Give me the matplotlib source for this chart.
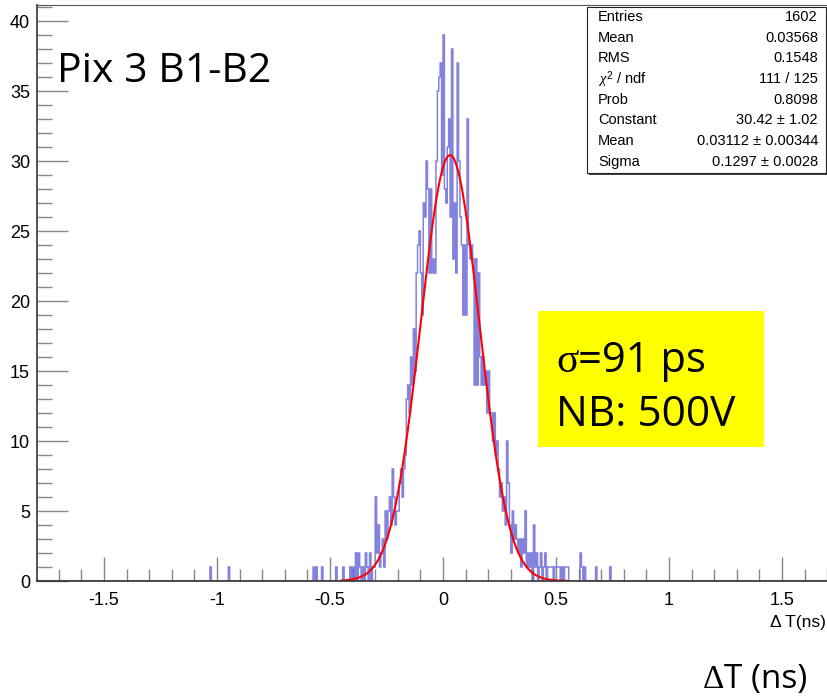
import numpy as np
import matplotlib
matplotlib.use("Agg")
import matplotlib.pyplot as plt
from matplotlib.patches import Rectangle
from matplotlib.ticker import MultipleLocator

# ---------------- data ----------------
bin_lo = -1.8
bin_width = 0.00625
n_bins = 576

core_start_x = -0.45
core_counts = [
    0, 1, 0, 0,   0, 0, 1, 0,   1, 0, 2, 0,   2, 1, 0, 1,
    0, 2, 1, 0,   2, 0, 1, 1,   6, 2, 4, 1,   2, 3, 1, 5,
    3, 5, 6, 4,   8, 6, 4, 5,   5, 7, 8, 6,   8, 9, 13, 14,
    12, 16, 14, 18, 15, 22, 24, 25, 22, 19, 27, 26, 30, 28, 22, 28,
    22, 23, 22, 30, 35, 36, 37, 29, 39, 28, 27, 31, 33, 26, 38, 23,
    27, 22, 37, 30, 26, 24, 19, 24, 19, 33, 24, 23, 24, 23, 14, 23,
    14, 22, 16, 14, 16, 14, 15, 12, 15, 12, 12, 10, 12, 9, 10, 8,
    6, 7, 5, 6,   4, 10, 7, 4,  2, 5, 3, 4,   3, 2, 3, 1,
    3, 2, 5, 1,   2, 1, 2, 0,   4, 1, 2, 0,   1, 2, 0, 1,
    2, 0, 1, 1,   1, 1, 0, 1,   1, 1, 1, 0,   1, 0, 1, 1,
    1, 0, 0, 0,   0, 0, 0, 0,   0, 2, 1, 0,   1, 0, 0, 0,
    0, 0, 0, 0,   1, 0, 0, 0,   0, 0, 0, 0,   0, 0, 1, 0,
]
tail_x = [-1.03, -0.95, -0.575, -0.56, -0.535, -0.47]
tail_n = [1, 1, 1, 1, 1, 1]

fit_constant = 30.42
fit_mean = 0.03112
fit_sigma = 0.1297
fit_range = (-0.45, 0.55)

stat_labels = ["Entries", "Mean", "RMS", r"$\chi^{2}$ / ndf", "Prob", "Constant", "Mean", "Sigma"]
stat_values = ["1602", "0.03568", "0.1548", "111 / 125", "0.8098",
               "30.42 ± 1.02", "0.03112 ± 0.00344", "0.1297 ± 0.0028"]

x_ticks = [-1.5, -1, -0.5, 0, 0.5, 1, 1.5]
x_tick_labels = ["-1.5", "-1", "-0.5", "0", "0.5", "1", "1.5"]
y_ticks = [0, 5, 10, 15, 20, 25, 30, 35, 40]

# ---------------- build histogram ----------------
edges = bin_lo + bin_width * np.arange(n_bins + 1)
counts = np.zeros(n_bins)
i0 = int(round((core_start_x - bin_lo) / bin_width))
counts[i0:i0 + len(core_counts)] = core_counts
for xv, nv in zip(tail_x, tail_n):
    counts[int((xv - bin_lo) / bin_width)] += nv

W, H = 828, 699
fig = plt.figure(figsize=(W / 100, H / 100), dpi=100)
plt.rcParams['font.family'] = ['Liberation Sans', 'DejaVu Sans']
plt.rcParams['mathtext.fontset'] = 'custom'
plt.rcParams['mathtext.rm'] = 'Liberation Sans'
plt.rcParams['mathtext.it'] = 'Liberation Serif:italic'

def fx(px):
    return px / W

def fy(py):
    return 1 - py / H

left_px, right_px, top_px, bottom_px = 37, 828, 5, 581
ax = fig.add_axes([fx(left_px), fy(bottom_px), fx(right_px) - fx(left_px), fy(top_px) - fy(bottom_px)])
x0_px, px_per_unit = 443, 226
ax.set_xlim((left_px - x0_px) / px_per_unit, (right_px - x0_px) / px_per_unit)
ax.set_ylim(0, (bottom_px - top_px) / 14.0)

ax.stairs(counts, edges, color='#6464d6', lw=1.1, alpha=0.8, zorder=2)

xf = np.linspace(fit_range[0], fit_range[1], 400)
yf = fit_constant * np.exp(-0.5 * ((xf - fit_mean) / fit_sigma) ** 2)
ax.plot(xf, yf, color='red', lw=1.5, zorder=3)

ax.set_xticks(x_ticks)
ax.set_xticklabels(x_tick_labels)
ax.xaxis.set_minor_locator(MultipleLocator(0.1))
ax.set_yticks(y_ticks)
ax.yaxis.set_minor_locator(MultipleLocator(1))
ax.tick_params(axis='x', which='major', direction='in', length=17, width=1, color='#888888',
               labelsize=13, pad=8)
ax.tick_params(axis='x', which='minor', direction='in', length=8.5, width=1, color='#888888')
ax.tick_params(axis='y', which='major', direction='in', length=22, width=1, color='#888888',
               labelsize=13, pad=5)
ax.tick_params(axis='y', which='minor', direction='in', length=11, width=1, color='#888888')
for s in ['left', 'bottom']:
    ax.spines[s].set_color('#333333')
    ax.spines[s].set_linewidth(1.2)
    ax.spines[s].set_zorder(5)
ax.spines['top'].set_color('#555555')
ax.spines['top'].set_linewidth(0.8)
ax.spines['right'].set_visible(False)

# x axis title
fig.text(fx(826), fy(622), "Δ T(ns)", ha='right', va='center', fontsize=12.5)

# stats box
bx0, by0, bx1, by1 = 587, 7, 826, 173
fig.patches.append(Rectangle((fx(bx0 + 2), fy(by1 + 2)), fx(bx1) - fx(bx0), fy(by0) - fy(by1),
                             transform=fig.transFigure, facecolor='#444444', edgecolor='none', zorder=5))
fig.patches.append(Rectangle((fx(bx0), fy(by1)), fx(bx1) - fx(bx0), fy(by0) - fy(by1),
                             transform=fig.transFigure, facecolor='white', edgecolor='#222222',
                             lw=0.8, zorder=6))
row0, drow = 17, 20.7
for k, (lab, val) in enumerate(zip(stat_labels, stat_values)):
    yy = fy(row0 + k * drow)
    fig.text(fx(598), yy, lab, ha='left', va='center', fontsize=10.5, zorder=7)
    fig.text(fx(818), yy, val, ha='right', va='center', fontsize=10.5, zorder=7)

# overlay texts
fig.text(fx(57), fy(82), "Pix 3 B1-B2", ha='left', va='baseline', fontsize=29.5,
         family=['Open Sans', 'DejaVu Sans'])

fig.patches.append(Rectangle((fx(538), fy(447)), fx(764) - fx(538), fy(311) - fy(447),
                             transform=fig.transFigure, facecolor='#ffff00', edgecolor='none', zorder=3))

fig.canvas.draw()
renderer = fig.canvas.get_renderer()

def two_part(xpx, ypx, sym, rest, size):
    t1 = fig.text(fx(xpx), fy(ypx), sym, ha='left', va='baseline', fontsize=size,
                  family=['Liberation Serif', 'DejaVu Serif'], zorder=8)
    bb = t1.get_window_extent(renderer)
    fig.text(bb.x1 / W, fy(ypx), rest, ha='left', va='baseline', fontsize=size,
             family=['Open Sans', 'DejaVu Sans'], zorder=8)

two_part(556, 372, "σ", "=91 ps", 30)
fig.text(fx(556), fy(426), "NB: 500V", ha='left', va='baseline', fontsize=30.5,
         family=['Open Sans', 'DejaVu Sans'], zorder=8)
two_part(703, 688, "Δ", "T (ns)", 24)

fig.savefig("out.png", dpi=100)
